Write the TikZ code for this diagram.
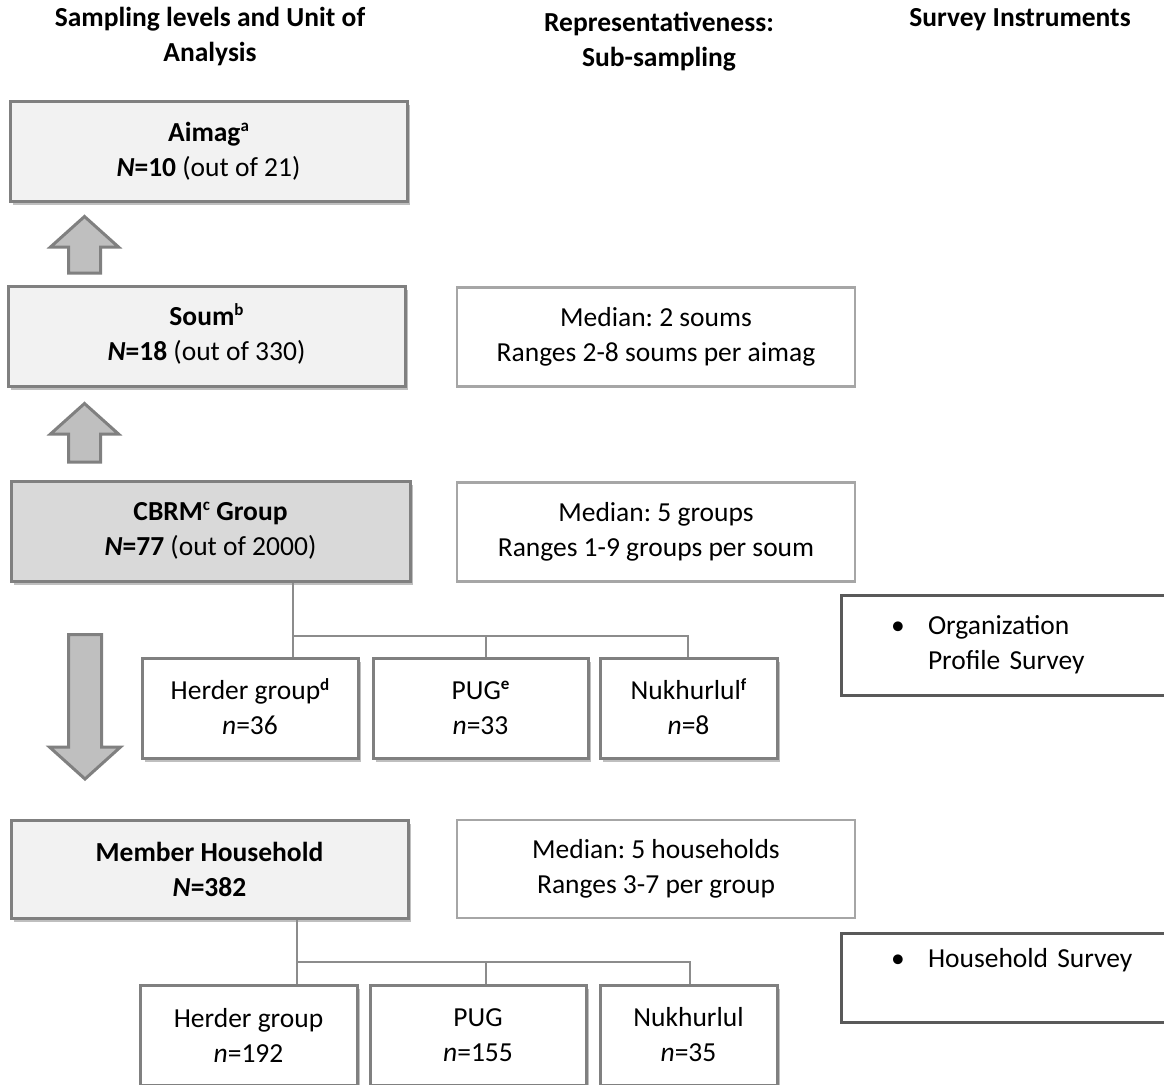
\documentclass[tikz,border=0pt]{standalone}
\usepackage{fontspec}
\setmainfont{Carlito}
\usetikzlibrary{shadows}

\definecolor{edgegray}{HTML}{808080}
\definecolor{palefill}{HTML}{F2F2F2}
\definecolor{midfill}{HTML}{D9D9D9}
\definecolor{subedge}{HTML}{A6A6A6}
\definecolor{instedge}{HTML}{595959}
\definecolor{arrowfill}{HTML}{BFBFBF}
\definecolor{linkgray}{HTML}{8C8C8C}

% small footnote mark that does not change the line height
\newcommand{\notemark}[1]{\raisebox{0.75ex}[0pt][0pt]{\fontsize{17}{17}\selectfont\bfseries #1}}

\tikzset{
  hdr/.style={font=\bfseries, align=center},
  boxshadow/.style={drop shadow={shadow xshift=3pt, shadow yshift=-4pt, fill=black, opacity=0.25}},
  levelbox/.style={draw=edgegray, line width=3pt, fill=palefill, inner sep=0pt,
    minimum width=397pt, minimum height=100pt, align=center, boxshadow},
  subbox/.style={draw=subedge, line width=2.5pt, fill=white, inner sep=0pt,
    minimum width=398pt, minimum height=99pt, align=center},
  groupbox/.style={draw=edgegray, line width=3pt, fill=white, inner sep=0pt,
    minimum height=100pt, align=center, boxshadow},
  instbox/.style={draw=instedge, line width=3pt, fill=white, inner xsep=50pt, inner ysep=0pt,
    text width=250pt, align=left},
  blockarrow/.style={draw=edgegray, line width=3pt, fill=arrowfill, line join=miter},
  link/.style={draw=linkgray, line width=1.5pt}
}

\begin{document}
\frenchspacing
\fontsize{27.5}{35}\selectfont
\begin{tikzpicture}[x=1pt, y=-1pt]
\useasboundingbox (0,0) rectangle (1164,1084);

% column headers
\node[hdr] (hlevel) at (210,37) {Sampling levels and Unit of\\Analysis};
\node[hdr] (hsub) at (659,42) {Representativeness:\\Sub-sampling};
\node[hdr] (hinst) at (1020,20) {Survey Instruments};

% sampling levels
\node[levelbox] (aimag) at (208.5,151) {\textbf{Aimag\notemark{a}}\\\textbf{\textit{N}=10} (out of 21)};
\node[levelbox] (soum) at (206.5,336) {\textbf{Soum\notemark{b}}\\\textbf{\textit{N}=18} (out of 330)};
\node[levelbox, fill=midfill, minimum width=399pt] (cbrm) at (210.5,531) {\textbf{CBRM\notemark{c} Group}\\\textbf{\textit{N}=77} (out of 2000)};
\node[levelbox, minimum height=98pt] (member) at (209.5,869) {\textbf{Member Household}\\\textbf{\textit{N}=382}};

% sub-sampling
\node[subbox] (subsoum) at (656,337) {Median: 2 soums\\Ranges 2-8 soums per aimag};
\node[subbox] (subgrp) at (656,532) {Median: 5 groups\\Ranges 1-9 groups per soum};
\node[subbox, minimum height=98pt] (subhh) at (656,869) {Median: 5 households\\Ranges 3-7 per group};

% group types
\node[groupbox, minimum width=216pt] (herd1) at (250,708) {Herder group\notemark{d}\\\textit{n}=36};
\node[groupbox, minimum width=215pt] (pug1) at (480.5,708) {PUG\notemark{e}\\\textit{n}=33};
\node[groupbox, minimum width=177pt] (nuk1) at (688.5,708) {Nukhurlul\notemark{f}\\\textit{n}=8};

\node[groupbox, minimum width=217pt] (herd2) at (248.5,1035) {Herder group\\\textit{n}=192};
\node[groupbox, minimum width=216pt] (pug2) at (478,1035) {PUG\\\textit{n}=155};
\node[groupbox, minimum width=177pt] (nuk2) at (688.5,1035) {Nukhurlul\\\textit{n}=35};

% survey instruments
\node[instbox, minimum height=100pt] (orgsurv) at (1016,645)
  {\begin{tabular}{@{}p{37pt}@{}l@{}}\textbullet & Organization\\ & Profile Survey\end{tabular}};
\node[instbox, minimum height=89pt] (hhsurv) at (1016,977.5)
  {\begin{tabular}{@{}p{37pt}@{}l@{}}\textbullet & Household Survey\\ & \end{tabular}};

% block arrows
\draw[blockarrow] (68.5,273) -- (68.5,247) -- (50.5,247) -- (84.5,216.5) -- (118.5,247)
  -- (100.5,247) -- (100.5,273) -- cycle;
\draw[blockarrow] (68.5,462) -- (68.5,434) -- (50.5,434) -- (84.5,403.5) -- (118.5,434)
  -- (100.5,434) -- (100.5,462) -- cycle;
\draw[blockarrow] (68.5,634.5) -- (68.5,747) -- (49.5,747) -- (85,779) -- (120.5,747)
  -- (101.5,747) -- (101.5,634.5) -- cycle;

% tree connectors
\coordinate (cj1) at (293,636);
\coordinate (cj2) at (486,636);
\coordinate (cj3) at (688,636);
\draw[link] (cj1 |- cbrm.south) -- (cj1 |- herd1.north);
\draw[link] (cj1) -- (cj3) -- (cj3 |- nuk1.north);
\draw[link] (cj2) -- (cj2 |- pug1.north);

\coordinate (mj1) at (297,962);
\coordinate (mj2) at (486,962);
\coordinate (mj3) at (690,962);
\draw[link] (mj1 |- member.south) -- (mj1 |- herd2.north);
\draw[link] (mj1) -- (mj3) -- (mj3 |- nuk2.north);
\draw[link] (mj2) -- (mj2 |- pug2.north);
\end{tikzpicture}
\end{document}
